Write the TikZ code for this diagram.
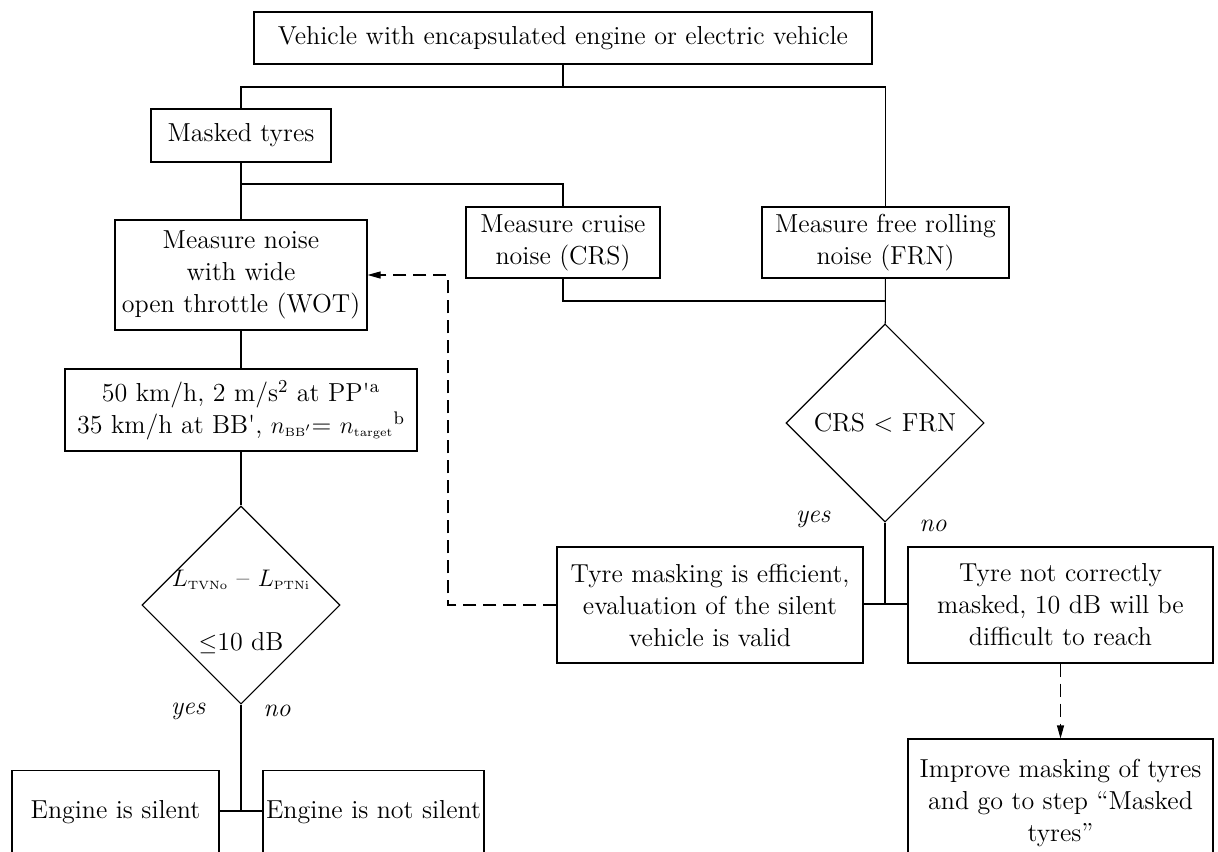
\documentclass[tikz,border=0pt]{standalone}
\usetikzlibrary{arrows.meta,shapes.geometric}
\tikzset{
  flow/.style={
    line width=0.55pt,
    line cap=butt,
    line join=miter
  },
  flow-dashed/.style={
    flow,
    dash pattern=on 6.5pt off 3.5pt,
    -{Triangle[length=6.5pt,width=3.5pt]}
  },
  box/.style={draw=black, line width=0.55pt, align=center, inner xsep=1pt, inner ysep=2pt, font=\fontsize{13}{16}\selectfont},
  decision/.style={box, diamond, aspect=1, inner sep=0pt, minimum size=99pt},
  cut-box/.style={box, anchor=north, text height=22pt, text depth=20pt},
  answer/.style={font=\fontsize{13}{16}\selectfont\itshape, inner sep=0pt}
}
\newcommand{\smallsub}[1]{{\scriptscriptstyle\mathrm{#1}}}

\begin{document}
\begin{tikzpicture}[x=0.5pt, y=-0.5pt, flow]
  % --- Frame (pixel grid of the sheet) ---
  \useasboundingbox (0,0) rectangle (1218,851);
  \clip (0,0) rectangle (1218,851);

  % --- Top of the chart ---
  \node[box, minimum width=309pt, minimum height=26pt] (vehicle) at (563,38)
    {Vehicle with encapsulated engine or electric vehicle};
  \node[box, minimum width=90pt, minimum height=26.5pt] (masked) at (241,135.5)
    {Masked tyres};
  \node[box, minimum width=126pt, minimum height=55pt] (wot) at (241,275)
    {Measure noise\\with wide\\open throttle (WOT)};
  \node[box, minimum width=97pt, minimum height=35.5pt] (crs) at (563,242.5)
    {Measure cruise\\noise (CRS)};
  \node[box, minimum width=123.5pt, minimum height=35.5pt] (frn) at (885.5,242.5)
    {Measure free rolling\\noise (FRN)};

  % --- Left branch: engine ---
  \node[box, minimum width=176pt, minimum height=41pt, inner xsep=0pt] (wot-cond) at (241,410)
    {50 km/h, 2 m/s\textsuperscript{2} at PP\textquotesingle\textsuperscript{a}\\
     35 km/h at BB\textquotesingle, $n_{\smallsub{BB'}}$= $n_{\smallsub{target}}$\textsuperscript{b}};
  \node[decision, inner sep=-14pt] (check-level) at (241,605)
    {\rule{0pt}{15pt}$L_{\smallsub{TVNo}}$ -- $L_{\smallsub{PTNi}}$\\[16pt]$\leq$10 dB};
  \node[cut-box, minimum width=103.5pt] (silent) at (115.5,770) {Engine is silent};
  \node[cut-box, minimum width=110.5pt] (not-silent) at (373.5,770) {Engine is not silent};

  % --- Right branch: tyres ---
  \node[decision] (check-crs) at (885,423) {CRS < FRN};
  \node[box, minimum width=153pt, minimum height=58pt] (efficient) at (710,605)
    {Tyre masking is efficient,\\evaluation of the silent\\vehicle is valid};
  \node[box, minimum width=152.5pt, minimum height=58pt] (not-masked) at (1060.5,605)
    {Tyre not correctly\\masked, 10 dB will be\\difficult to reach};
  \node[box, minimum width=152.5pt, minimum height=64pt] (improve) at (1060.5,803)
    {Improve masking of tyres\\and go to step “Masked\\tyres”};

  % --- Answers ---
  \node[answer] (yes-crs) at (813,519) {yes};
  \node[answer] (no-crs) at (933,526) {no};
  \node[answer] (yes-level) at (188,711) {yes};
  \node[answer] (no-level) at (277,711) {no};

  % --- Split and join points ---
  \coordinate (split-top) at (563,87);
  \coordinate (split-masked) at (241,184);
  \coordinate (join-noise) at (885.5,301);
  \coordinate (split-level) at (241,811);
  \coordinate (split-crs) at (885,604);
  \coordinate (loop-back) at (448,275);

  % --- Connectors ---
  \draw (vehicle) -- (split-top);
  \draw (masked.north) |- (split-top) -| (frn.north);
  \draw (masked) -- (wot);
  \draw (split-masked) -| (crs.north);
  \draw (crs.south) |- (join-noise);
  \draw (frn) -- (check-crs);
  \draw (wot) -- (wot-cond);
  \draw (wot-cond) -- (check-level);
  \draw (check-level.south) -- (split-level);
  \draw (silent.east |- split-level) -- (not-silent.west |- split-level);
  \draw (check-crs.south) -- (split-crs);
  \draw (efficient.east |- split-crs) -- (not-masked.west |- split-crs);

  % dashed feedback lines
  \draw[flow-dashed] (efficient.west) -| (loop-back) -- (wot.east);
  \draw[flow-dashed] (not-masked) -- (improve);
\end{tikzpicture}
\end{document}
